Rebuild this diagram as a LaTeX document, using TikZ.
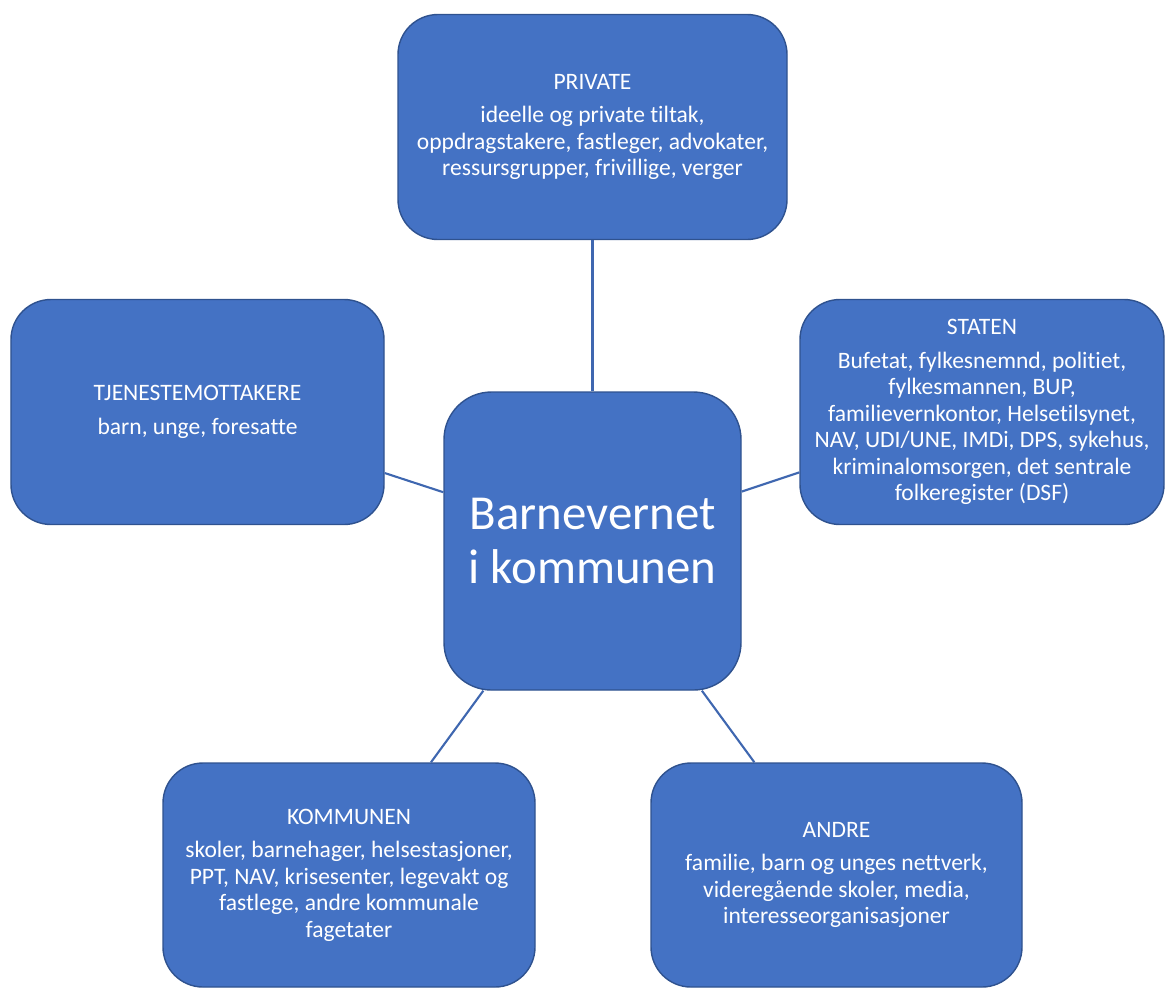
\documentclass[tikz,border=0pt]{standalone}
\usepackage{fontspec}
\setmainfont{Carlito}[Ligatures=CommonOff]
\usepackage{xcolor}
\usepackage{tikz}
\usetikzlibrary{positioning,calc}
\definecolor{boxfill}{HTML}{4472C4}
\definecolor{boxedge}{HTML}{2F528F}
\definecolor{linkcol}{HTML}{3F67B0}

\begin{document}
\begin{tikzpicture}[
    part/.style={rectangle, rounded corners=0.8cm, draw=boxedge, line width=0.8pt, fill=boxfill,
        text=white, align=center, font=\fontsize{13.4}{15.1}\selectfont,
        minimum width=7.44cm, minimum height=4.5cm, inner sep=0pt},
    hub/.style={rectangle, rounded corners=0.95cm, draw=boxedge, line width=0.8pt, fill=boxfill,
        text=white, align=center, font=\fontsize{27.8}{31}\selectfont,
        minimum width=5.94cm, minimum height=5.96cm, inner sep=0pt},
    link/.style={draw=linkcol, line width=1.2pt}
]
\useasboundingbox (0,0) rectangle (23.3,-19.76);

% midten
\node[hub] (bv) at (11.85, -10.82) {Barnevernet\\i kommunen};

% de fem samarbeidspartnerne
\node[part, minimum width=7.78cm] (priv) at (11.85, -2.54)
    {PRIVATE\\[4pt]ideelle og private tiltak,\\oppdragstakere, fastleger, advokater,\\ressursgrupper, frivillige, verger};
\node[part, minimum width=7.46cm] (tjen) at (3.95, -8.24)
    {TJENESTEMOTTAKERE\\[4pt]barn, unge, foresatte};
\node[part, minimum width=7.28cm] (stat) at (19.64, -8.24)
    {STATEN\\[4pt]Bufetat, fylkesnemnd, politiet,\\fylkesmannen, BUP,\\familievernkontor, Helsetilsynet,\\NAV, UDI/UNE, IMDi, DPS, sykehus,\\kriminalomsorgen, det sentrale\\folkeregister (DSF)};
\node[part, minimum height=4.48cm] (komm) at (6.98, -17.5)
    {KOMMUNEN\\[4pt]skoler, barnehager, helsestasjoner,\\PPT, NAV, krisesenter, legevakt og\\fastlege, andre kommunale\\fagetater};
\node[part, minimum width=7.42cm, minimum height=4.48cm] (andre) at (16.73, -17.5)
    {ANDRE\\[4pt]familie, barn og unges nettverk,\\videregående skoler, media,\\interesseorganisasjoner};

% forbindelser
\foreach \p in {priv,tjen,stat,komm,andre}
    \draw[link] (bv) -- (\p);
\end{tikzpicture}
\end{document}
